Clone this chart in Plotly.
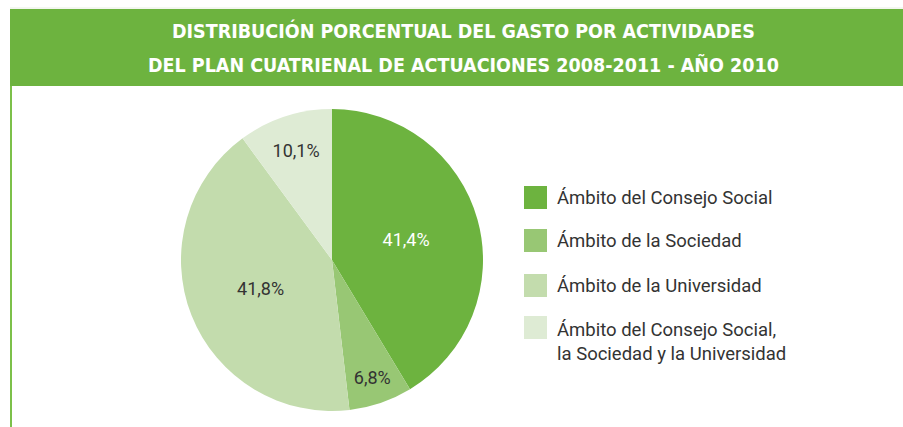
import plotly.graph_objects as go

# ---- data ----
categories = [
    "Ámbito del Consejo Social",
    "Ámbito de la Sociedad",
    "Ámbito de la Universidad",
    "Ámbito del Consejo Social,<br>la Sociedad y la Universidad",
]
values = [41.4, 6.8, 41.8, 10.1]
colors = ["#6db33f", "#98c774", "#c3dcad", "#deebd4"]
label_colors = ["#ffffff", "#333333", "#333333", "#333333"]
title_lines = [
    "DISTRIBUCIÓN PORCENTUAL DEL GASTO POR ACTIVIDADES",
    "DEL PLAN CUATRIENAL DE ACTUACIONES 2008-2011 - AÑO 2010",
]

W, H = 903, 427


def px(x):
    return x / W


def py(y):
    return 1 - y / H


text_labels = [f"{v:.1f}".replace(".", ",") + "%" for v in values]

cx, cy, r = 332, 260, 151

fig = go.Figure(
    go.Pie(
        labels=categories,
        values=values,
        text=text_labels,
        textinfo="text",
        textposition="inside",
        insidetextorientation="horizontal",
        textfont=dict(family="Roboto", size=18, color=label_colors),
        marker=dict(colors=colors, line=dict(width=0)),
        sort=False,
        direction="clockwise",
        rotation=0,
        showlegend=False,
        hoverinfo="label+percent",
        domain=dict(x=[px(cx - r), px(cx + r)], y=[py(cy + r), py(cy - r)]),
    )
)

shapes = [
    # header band
    dict(type="rect", xref="paper", yref="paper", x0=px(10), x1=px(903), y0=py(86), y1=py(9),
         fillcolor="#6db33f", line=dict(width=0), layer="below"),
    # thin light line above the band
    dict(type="line", xref="paper", yref="paper", x0=px(10), x1=px(903), y0=py(8), y1=py(8),
         line=dict(color="#e6eee0", width=1)),
    # left border
    dict(type="line", xref="paper", yref="paper", x0=px(11), x1=px(11), y0=py(427), y1=py(86),
         line=dict(color="#7cc04a", width=2)),
]
annotations = []
for i, t in enumerate(title_lines):
    annotations.append(dict(
        text=t, xref="paper", yref="paper", x=px(464), y=py(31.5 + 33 * i),
        xanchor="center", yanchor="middle", showarrow=False,
        font=dict(family="DejaVu Sans Condensed", size=19.5, color="#ffffff", weight="bold"),
    ))

# legend (drawn manually)
leg_tops = [186, 229, 274, 316]
for i, (cat, col) in enumerate(zip(categories, colors)):
    t = leg_tops[i]
    shapes.append(dict(type="rect", xref="paper", yref="paper", x0=px(524), x1=px(547),
                       y0=py(t + 23), y1=py(t), fillcolor=col, line=dict(width=0)))
    if "<br>" in cat:
        annotations.append(dict(
            text=cat, xref="paper", yref="paper", x=px(555), y=py(t + 1),
            xanchor="left", yanchor="top", align="left", showarrow=False,
            font=dict(family="Roboto", size=18.5, color="#333333"),
        ))
    else:
        annotations.append(dict(
            text=cat, xref="paper", yref="paper", x=px(555), y=py(t + 12),
            xanchor="left", yanchor="middle", align="left", showarrow=False,
            font=dict(family="Roboto", size=18.5, color="#333333"),
        ))

fig.update_layout(
    width=W, height=H,
    margin=dict(l=0, r=0, t=0, b=0),
    paper_bgcolor="#ffffff",
    plot_bgcolor="#ffffff",
    shapes=shapes,
    annotations=annotations,
)

fig.write_html(
    "out.html",
    config={"displayModeBar": False},
    post_script="document.body.style.margin='0';document.body.style.overflow='hidden';",
)
